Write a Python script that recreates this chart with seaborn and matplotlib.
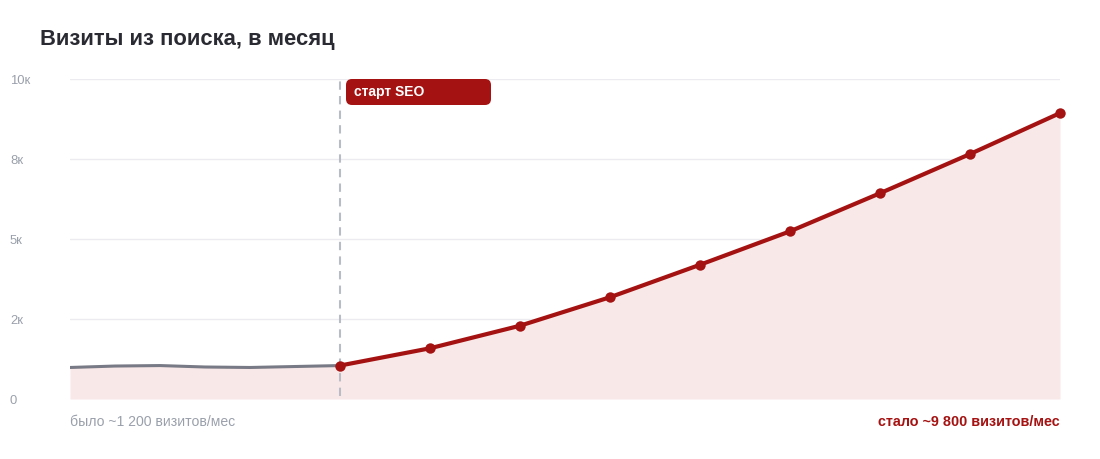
import matplotlib
matplotlib.use("Agg")
import matplotlib.pyplot as plt
from matplotlib.patches import FancyBboxPatch
import seaborn as sns
import pandas as pd

# ---- data ----
before_months = [0, 1, 2, 3, 4, 5, 6]
before_visits = [985, 1030, 1045, 1000, 985, 1015, 1045]
after_months = [6, 8, 10, 12, 14, 16, 18, 20, 22]
after_visits = [1045, 1585, 2290, 3180, 4195, 5240, 6430, 7655, 8935]
y_ticks = [0, 2500, 5000, 7500, 10000]
title = "Визиты из поиска, в месяц"
seo_label = "старт SEO"
left_note = "было ~1 200 визитов/мес"
right_note = "стало ~9 800 визитов/мес"

RED = "#a51212"
GRAY_LINE = "#787a85"
FILL = "#f9e8e8"
TICK_GRAY = "#9aa0ab"

sns.set_theme(style="white")
plt.rcParams["font.family"] = ["Liberation Sans", "DejaVu Sans"]

W, H = 1100, 460
fig = plt.figure(figsize=(W / 100, H / 100), dpi=100)
ax = fig.add_axes([70 / W, 1 - 400 / H, 990 / W, 320 / H])

df_before = pd.DataFrame({"month": before_months, "visits": before_visits})
df_after = pd.DataFrame({"month": after_months, "visits": after_visits})

# fill under the whole series
all_m = before_months + after_months[1:]
all_v = before_visits + after_visits[1:]
ax.fill_between(all_m, 0, all_v, color=FILL, lw=0, zorder=1)

# gridlines
for t in y_ticks:
    ax.axhline(t, color="#ececf0", lw=1, zorder=0)

# vertical dashed line at SEO start
ax.axvline(after_months[0], ymin=0.01, ymax=1, color="#b8bcc6", lw=1.5,
           ls=(0, (4, 3)), zorder=2)

sns.lineplot(data=df_before, x="month", y="visits", ax=ax, color=GRAY_LINE,
             lw=2.2, zorder=3, legend=False)
sns.lineplot(data=df_after, x="month", y="visits", ax=ax, color=RED,
             lw=3.0, marker="o", markersize=7.5, markeredgewidth=0,
             zorder=4, legend=False, clip_on=False)

ax.set_xlim(0, 22)
ax.set_ylim(0, 10000)
ax.set_xticks([])
ax.set_yticks(y_ticks)
ax.set_yticklabels(["0" if t == 0 else f"{round(t / 1000)}к" for t in y_ticks])
ax.tick_params(axis="y", length=0, pad=43.2, labelsize=9.4, labelcolor=TICK_GRAY)
for lbl in ax.get_yticklabels():
    lbl.set_horizontalalignment("left")
ax.set_xlabel("")
ax.set_ylabel("")
for s in ax.spines.values():
    s.set_visible(False)

# title
fig.text(40 / W, 1 - 39 / H, title, fontsize=15.8, fontweight="bold",
         color="#2a2a33", ha="left", va="center")

# SEO label box (inches)
box = FancyBboxPatch((346 / 100, (H - 106) / 100), 145 / 100, 26 / 100,
                     boxstyle="round,pad=0,rounding_size=0.06",
                     transform=fig.dpi_scale_trans, facecolor=RED,
                     edgecolor="none", zorder=5)
fig.patches.append(box)
fig.text(354 / W, 1 - 92 / H, seo_label, fontsize=10, fontweight="bold",
         color="white", ha="left", va="center", zorder=6)

# bottom notes
fig.text(70 / W, 1 - 422 / H, left_note, fontsize=10.1, color=TICK_GRAY,
         ha="left", va="center")
fig.text(1060 / W, 1 - 422 / H, right_note, fontsize=10.35, fontweight="bold",
         color=RED, ha="right", va="center")

fig.savefig("out.png", dpi=100, facecolor="white")
